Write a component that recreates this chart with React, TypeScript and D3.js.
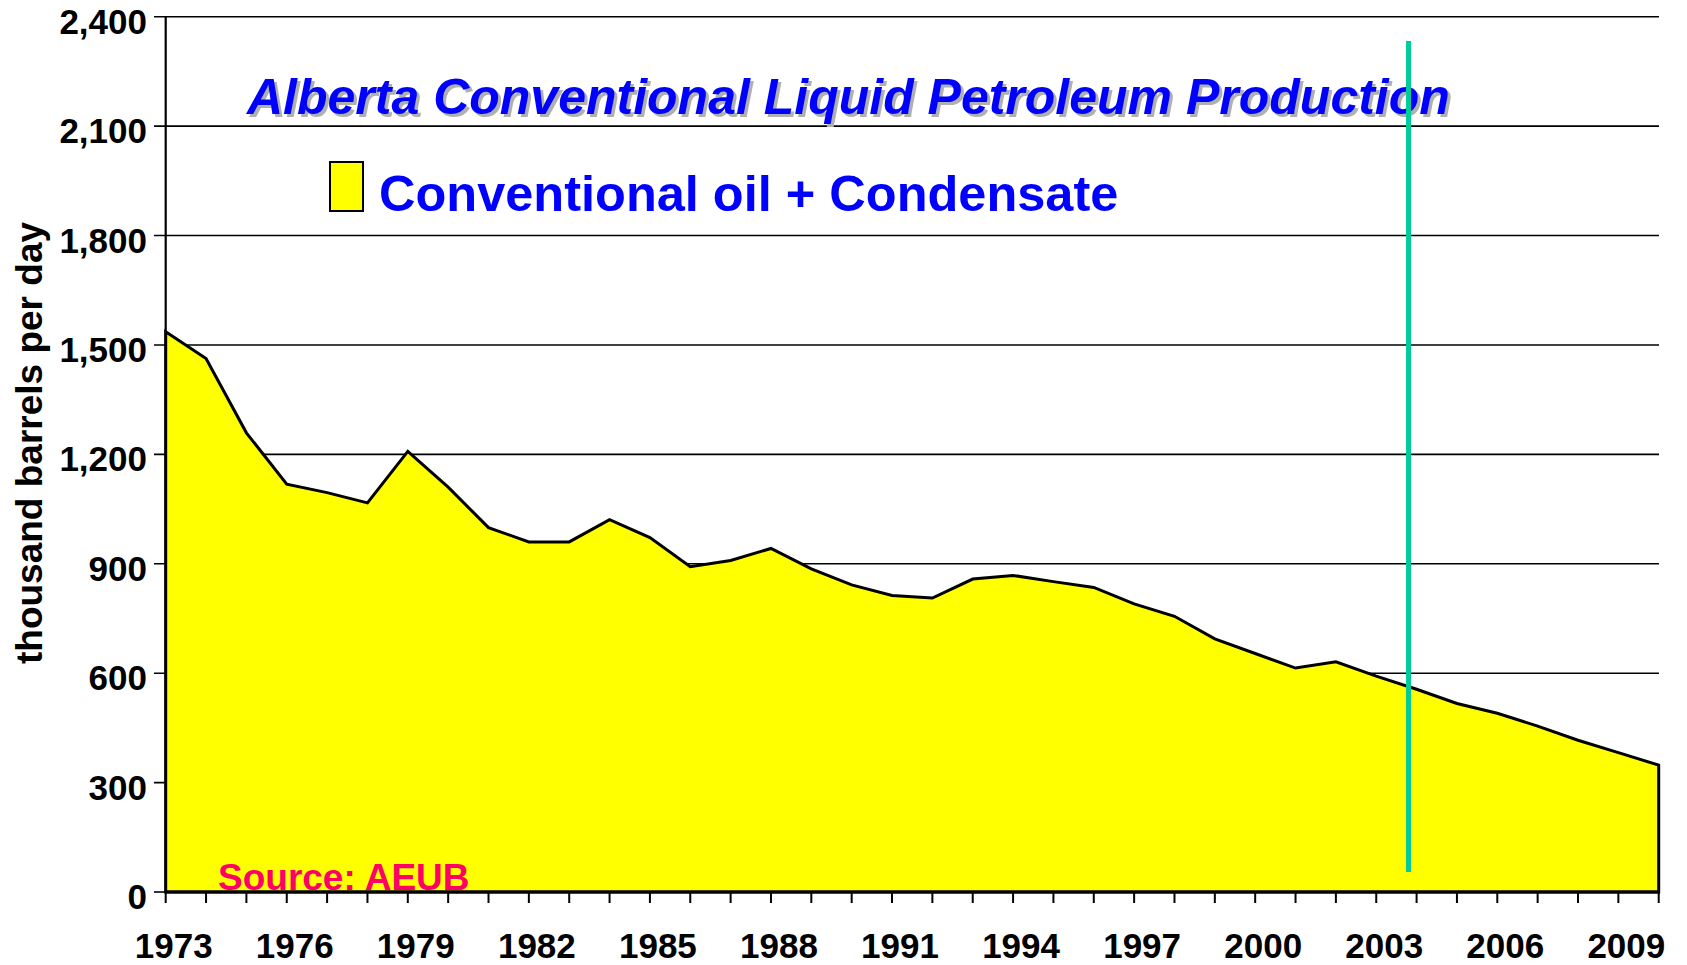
import React from 'react'
import * as d3 from 'd3'

// Alberta conventional oil + condensate, thousand barrels per day
const years = [
  1973, 1974, 1975, 1976, 1977, 1978, 1979, 1980, 1981, 1982,
  1983, 1984, 1985, 1986, 1987, 1988, 1989, 1990, 1991, 1992,
  1993, 1994, 1995, 1996, 1997, 1998, 1999, 2000, 2001, 2002,
  2003, 2004, 2005, 2006, 2007, 2008, 2009, 2010
]
const production = [
  1536, 1463, 1259, 1118, 1095, 1067, 1208, 1110, 999, 960,
  960, 1021, 972, 892, 909, 942, 886, 842, 813, 806,
  858, 868, 851, 835, 790, 756, 694, 654, 614, 631,
  592, 556, 517, 490, 455, 416, 382, 348
]
const yTicks = [0, 300, 600, 900, 1200, 1500, 1800, 2100, 2400]
const xLabels = [1973, 1976, 1979, 1982, 1985, 1988, 1991, 1994, 1997, 2000, 2003, 2006, 2009]
const markerYear = 2003.8

const W = 1687
const H = 965
const font = 'Liberation Sans, Arial, Helvetica, sans-serif'
const title = 'Alberta Conventional Liquid Petroleum Production'

export default function App () {
  const x = d3.scaleLinear().domain([1973, 2010]).range([165.7, 1658.7])
  const y = d3.scaleLinear().domain([0, 2400]).range([892, 16.7])

  const pts = years.map((yr, i) => ({ yr, v: production[i] }))
  const area = d3.area<{ yr: number, v: number }>()
    .x(d => x(d.yr))
    .y0(y(0))
    .y1(d => y(d.v))

  const fmt = d3.format(',')

  return (
    <svg width={W} height={H} style={{ position: 'absolute', left: 0, top: 0, background: '#fff' }}>
      {/* gridlines + y ticks */}
      {yTicks.map(t => (
        <g key={t}>
          <line x1={154} x2={t === 0 ? 165.7 : 1659} y1={y(t)} y2={y(t)} stroke='#000' strokeWidth={1.6} />
          <text x={147} y={y(t) + 17} textAnchor='end' fontFamily={font} fontWeight='bold' fontSize={35}>{fmt(t)}</text>
        </g>
      ))}

      {/* area */}
      <path d={area(pts) + 'Z'} fill='#ffff00' stroke='#000' strokeWidth={3} strokeLinejoin='miter' />

      {/* axes */}
      <line x1={165.7} x2={165.7} y1={y(2400)} y2={y(0)} stroke='#000' strokeWidth={2.2} />
      <line x1={164.7} x2={1660} y1={y(0)} y2={y(0)} stroke='#000' strokeWidth={3} />
      {years.map(yr => (
        <line key={yr} x1={x(yr)} x2={x(yr)} y1={y(0)} y2={y(0) + 11} stroke='#000' strokeWidth={2} />
      ))}
      {xLabels.map(yr => (
        <text key={yr} x={x(yr) + 8} y={958} textAnchor='middle' fontFamily={font} fontWeight='bold' fontSize={35}>{yr}</text>
      ))}

      {/* y axis title */}
      <text transform={`translate(42,443) rotate(-90)`} textAnchor='middle' fontFamily={font} fontWeight='bold' fontSize={37}>
        thousand barrels per day
      </text>

      {/* title with shadow */}
      <text x={250} y={117} fontFamily={font} fontWeight='bold' fontStyle='italic' fontSize={50} fill='#b0b0b0'>
        {title}
      </text>
      <text x={247} y={114} fontFamily={font} fontWeight='bold' fontStyle='italic' fontSize={50} fill='#0000ff'>
        {title}
      </text>

      {/* legend */}
      <rect x={330} y={162} width={33} height={49} fill='#ffff00' stroke='#000' strokeWidth={2} />
      <text x={379} y={211} fontFamily={font} fontWeight='bold' fontSize={50.5} fill='#0000ff'>
        Conventional oil + Condensate
      </text>

      {/* source */}
      <text x={218} y={890} fontFamily={font} fontWeight='bold' fontSize={37} fill='#ff0066'>Source: AEUB</text>

      {/* vertical marker */}
      <line x1={x(markerYear)} x2={x(markerYear)} y1={41} y2={872} stroke='#00cc99' strokeWidth={5} />
    </svg>
  )
}
